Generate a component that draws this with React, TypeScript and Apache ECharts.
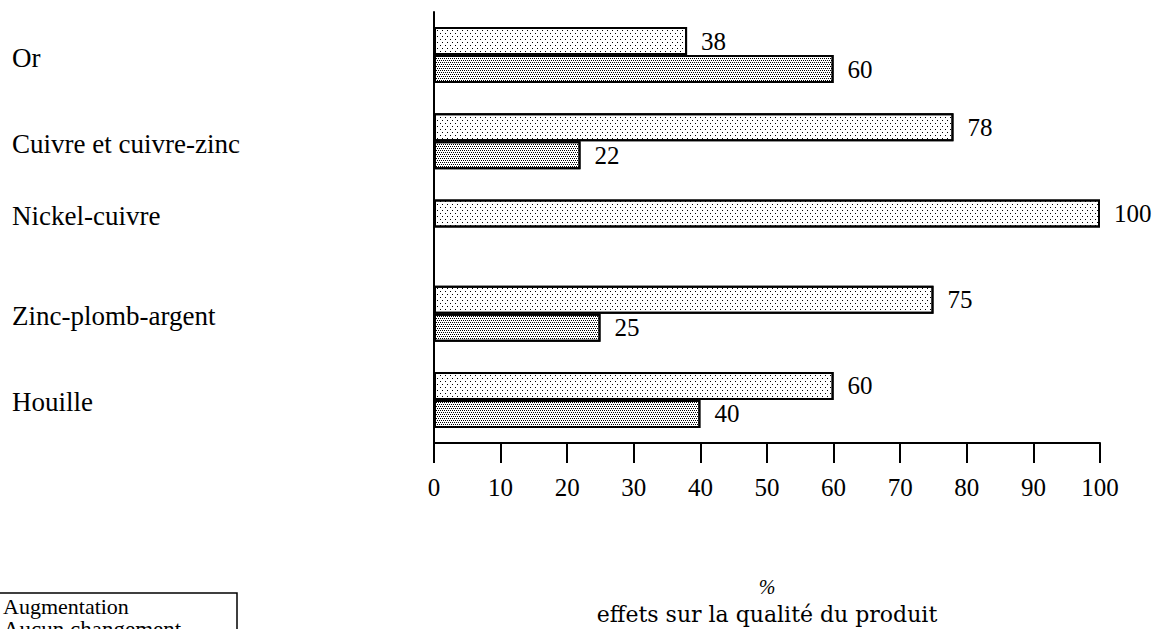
import React, { useEffect, useRef } from "react";
import * as echarts from "echarts";

const categories = ["Or", "Cuivre et cuivre-zinc", "Nickel-cuivre", "Zinc-plomb-argent", "Houille"];
const seriesNames = ["Augmentation", "Aucun changement"];
const augmentation = [38, 78, 100, 75, 60];
const aucunChangement: (number | string)[] = [60, 22, "-", 25, 40];
const xTicks = { min: 0, max: 100, interval: 10 };
const axisTitleUnit = "%";
const axisTitle = "effets sur la qualité du produit";

const SERIF = "'Liberation Serif', 'Times New Roman', serif";

export default function App() {
  const ref = useRef<HTMLDivElement>(null);
  useEffect(() => {
    if (!ref.current) return;
    const chart = echarts.init(ref.current, null, { renderer: "svg" });
    const labelStyle = {
      show: true,
      position: "right" as const,
      distance: 14,
      fontSize: 25,
      fontFamily: SERIF,
      color: "#000",
    };
    chart.setOption({
      animation: false,
      backgroundColor: "#fff",
      grid: { left: 434, right: 57, top: 12, bottom: 186, containLabel: false, outerBoundsMode: "none" },
      xAxis: {
        type: "value",
        min: xTicks.min,
        max: xTicks.max,
        interval: xTicks.interval,
        splitLine: { show: false },
        axisLine: { show: true, lineStyle: { color: "#000", width: 2 } },
        axisTick: { show: true, length: 20, lineStyle: { color: "#000", width: 2 } },
        axisLabel: { margin: 32, fontSize: 25, fontFamily: SERIF, color: "#000" },
        name: `{p|${axisTitleUnit}}\n{t|${axisTitle}}`,
        nameLocation: "middle",
        nameGap: 132,
        nameTextStyle: {
          color: "#000",
          rich: {
            p: { fontSize: 20, fontStyle: "italic", fontFamily: SERIF, lineHeight: 24, color: "#000", align: "center" },
            t: { fontSize: 22, fontFamily: "'DejaVu Serif', serif", lineHeight: 30, color: "#000", align: "center" },
          },
        },
      },
      yAxis: {
        type: "category",
        inverse: true,
        data: categories,
        axisLine: { show: true, lineStyle: { color: "#000", width: 2 } },
        axisTick: { show: false },
        axisLabel: {
          margin: 2,
          color: "#000",
          formatter: (v: string) => (v === "Nickel-cuivre" ? `{a|${v}}\n{a| }` : `{a|${v}}`),
          rich: {
            a: { width: 420, align: "left", fontSize: 27, lineHeight: 28, fontFamily: SERIF, color: "#000", padding: [5, 0, 0, 0] },
          },
        },
        splitLine: { show: false },
      },
      series: [
        {
          name: seriesNames[0],
          type: "bar",
          data: augmentation,
          barWidth: 28,
          barGap: "0%",
          itemStyle: {
            color: "#fff",
            borderColor: "#000",
            borderWidth: 2,
            decal: {
              symbol: "rect",
              symbolSize: 1,
              color: "#000",
              backgroundColor: "#fff",
              dashArrayX: [[1, 4], [0, 2, 1, 2]],
              dashArrayY: [1, 2],
              rotation: 0,
            },
          },
          label: labelStyle,
        },
        {
          name: seriesNames[1],
          type: "bar",
          data: aucunChangement,
          barWidth: 28,
          barGap: "0%",
          itemStyle: {
            color: "#fff",
            borderColor: "#000",
            borderWidth: 2,
            decal: {
              symbol: "rect",
              symbolSize: 1,
              color: "#000",
              backgroundColor: "#fff",
              dashArrayX: [[1, 1], [0, 1, 1, 0]],
              dashArrayY: [1, 1],
              rotation: 0,
            },
          },
          label: labelStyle,
        },
      ],
      graphic: [
        {
          type: "rect",
          shape: { x: -10, y: 593, width: 247, height: 80 },
          style: { fill: "none", stroke: "#000", lineWidth: 1.5 },
        },
        {
          type: "text",
          x: 3,
          y: 606,
          style: { text: seriesNames[0], fontSize: 22, fontFamily: SERIF, fill: "#000", verticalAlign: "middle" },
        },
        {
          type: "text",
          x: 3,
          y: 629,
          style: { text: seriesNames[1], fontSize: 23, fontFamily: SERIF, fill: "#000", verticalAlign: "middle" },
        },
      ],
    });
    return () => chart.dispose();
  }, []);
  return <div ref={ref} style={{ position: "fixed", left: 0, top: 0, width: 1157, height: 629 }} />;
}
